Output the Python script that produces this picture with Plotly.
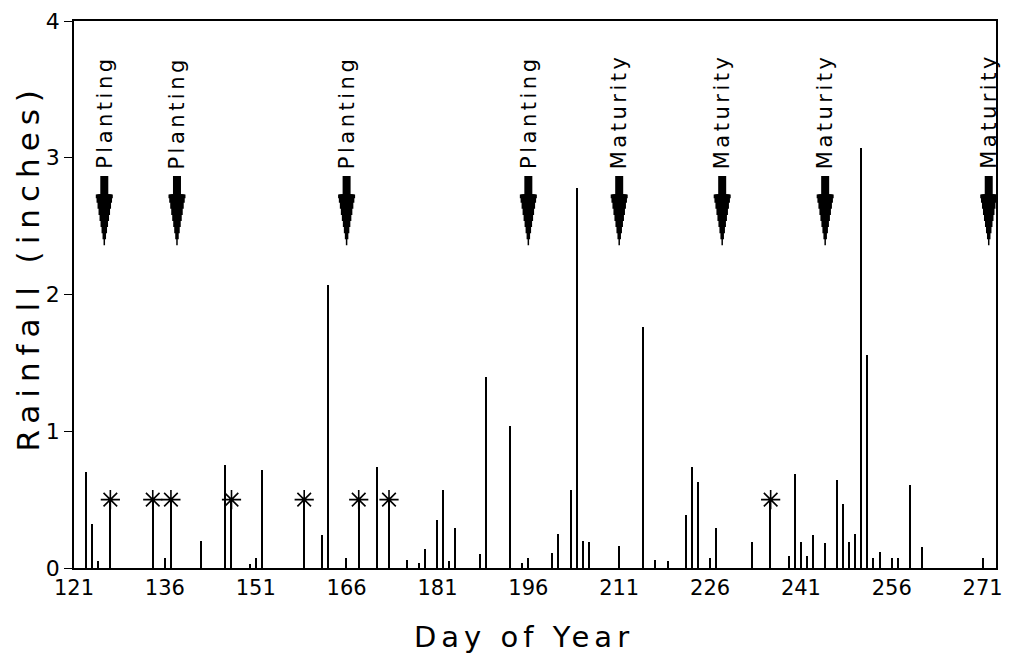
import plotly.graph_objects as go

# Daily rainfall (inches) by day of year
rain_days = [123, 124, 125, 136, 142, 146, 150, 151, 152, 162, 163, 166, 171, 176, 178, 179,
             181, 182, 183, 184, 188, 189, 193, 195, 196, 200, 201, 203, 204, 205, 206, 211,
             215, 217, 219, 222, 223, 224, 226, 227, 233, 239, 240, 241, 242, 243, 245, 247,
             248, 249, 250, 251, 252, 253, 254, 256, 257, 259, 261, 271]
rain_inches = [0.70, 0.32, 0.05, 0.07, 0.20, 0.75, 0.03, 0.07, 0.72, 0.24, 2.07, 0.07, 0.74, 0.06, 0.04, 0.14,
               0.35, 0.57, 0.05, 0.29, 0.10, 1.40, 1.04, 0.04, 0.07, 0.11, 0.25, 0.57, 2.78, 0.20, 0.19, 0.16,
               1.76, 0.06, 0.05, 0.39, 0.74, 0.63, 0.07, 0.29, 0.19, 0.09, 0.69, 0.19, 0.09, 0.24, 0.18, 0.64,
               0.47, 0.19, 0.25, 3.07, 1.56, 0.07, 0.12, 0.07, 0.07, 0.61, 0.15, 0.07]

# Asterisk-marked events
star_days = [127, 134, 137, 147, 159, 168, 173, 236]
star_inches = [0.5, 0.5, 0.5, 0.5, 0.5, 0.5, 0.5, 0.5]

# Crop stage markers
planting_days = [126, 138, 166, 196]
maturity_days = [211, 228, 245, 272]
label_bottom_inches = 2.91   # where the vertical label ends
shaft_top_inches = 2.87      # arrow tail
head_base_inches = 2.73      # where the arrow head starts
arrow_tip_inches = 2.36      # arrow tip

x_tick_vals = [121, 136, 151, 166, 181, 196, 211, 226, 241, 256, 271]
y_tick_vals = [0, 1, 2, 3, 4]

FONT = "DejaVu Sans"
# (fraction of head length, stroke width) – stacked strokes form a tapered head
HEAD_STEPS = [(1.00, 1.5), (0.88, 3.5), (0.76, 5.5), (0.64, 7.5), (0.52, 9.5),
              (0.40, 11.5), (0.28, 13.5), (0.16, 15.5), (0.07, 17)]

fig = go.Figure()
fig.add_trace(go.Bar(x=rain_days, y=rain_inches, width=0.22,
                     marker=dict(color="black", line=dict(width=0)), showlegend=False))
fig.add_trace(go.Bar(x=star_days, y=star_inches, width=0.22,
                     marker=dict(color="black", line=dict(width=0)), showlegend=False))
fig.add_trace(go.Scatter(x=star_days, y=star_inches, mode="markers",
                         marker=dict(symbol="asterisk-open", size=16, color="black",
                                     line=dict(width=1.6, color="black")),
                         showlegend=False))

annotations = []
for label, days in (("Planting", planting_days), ("Maturity", maturity_days)):
    for d in days:
        annotations.append(dict(
            x=d, y=label_bottom_inches, xref="x", yref="y",
            text='<span style="letter-spacing:3.5px">%s</span>' % label, textangle=-90,
            font=dict(family=FONT, size=21, color="black"),
            showarrow=False, xanchor="center", yanchor="bottom", borderpad=0,
        ))
        # shaft
        annotations.append(dict(
            x=d, y=head_base_inches, xref="x", yref="y",
            ax=d, ay=shaft_top_inches, axref="x", ayref="y",
            text="", showarrow=True, arrowhead=0, arrowwidth=8,
            arrowcolor="black", borderpad=0, standoff=0, startstandoff=0,
        ))
        # tapered head
        for frac, w in HEAD_STEPS:
            annotations.append(dict(
                x=d, y=head_base_inches - frac * (head_base_inches - arrow_tip_inches),
                xref="x", yref="y",
                ax=d, ay=head_base_inches + 0.005, axref="x", ayref="y",
                text="", showarrow=True, arrowhead=0, arrowwidth=w,
                arrowcolor="black", borderpad=0, standoff=0, startstandoff=0,
            ))

annotations.append(dict(
    x=-0.0495, y=0.55, xref="paper", yref="paper",
    text='<span style="letter-spacing:7px">Rainfall (inches)</span>',
    textangle=-90, showarrow=False, xanchor="center", yanchor="middle",
    font=dict(family=FONT, size=31, color="black"),
))
annotations.append(dict(
    x=0.4876, y=-0.126, xref="paper", yref="paper",
    text='<span style="letter-spacing:5px">Day of Year</span>',
    showarrow=False, xanchor="center", yanchor="middle",
    font=dict(family=FONT, size=29, color="black"),
))

fig.update_layout(
    width=1012, height=658,
    margin=dict(l=74, r=9, t=21, b=90),
    paper_bgcolor="white", plot_bgcolor="white",
    bargap=0, barmode="overlay",
    annotations=annotations,
    font=dict(family=FONT, color="black"),
)
fig.update_xaxes(
    range=[121, 273.2], tickvals=x_tick_vals, ticks="", showgrid=False, zeroline=False,
    showline=True, linecolor="black", linewidth=1.5, mirror=True,
    tickfont=dict(family=FONT, size=21, color="black"),
)
fig.update_yaxes(
    range=[0, 4], tickvals=y_tick_vals, ticks="outside", ticklen=8, tickwidth=1.2,
    tickcolor="black", showgrid=False, zeroline=False,
    showline=True, linecolor="black", linewidth=1.5, mirror=True,
    tickfont=dict(family=FONT, size=22, color="black"),
)

# Remove the default page margin so the 1012x658 figure fills the window exactly.
fig.write_html("out.html",
               config={"displayModeBar": False},
               post_script="document.body.style.margin='0';document.body.style.overflow='hidden';")
